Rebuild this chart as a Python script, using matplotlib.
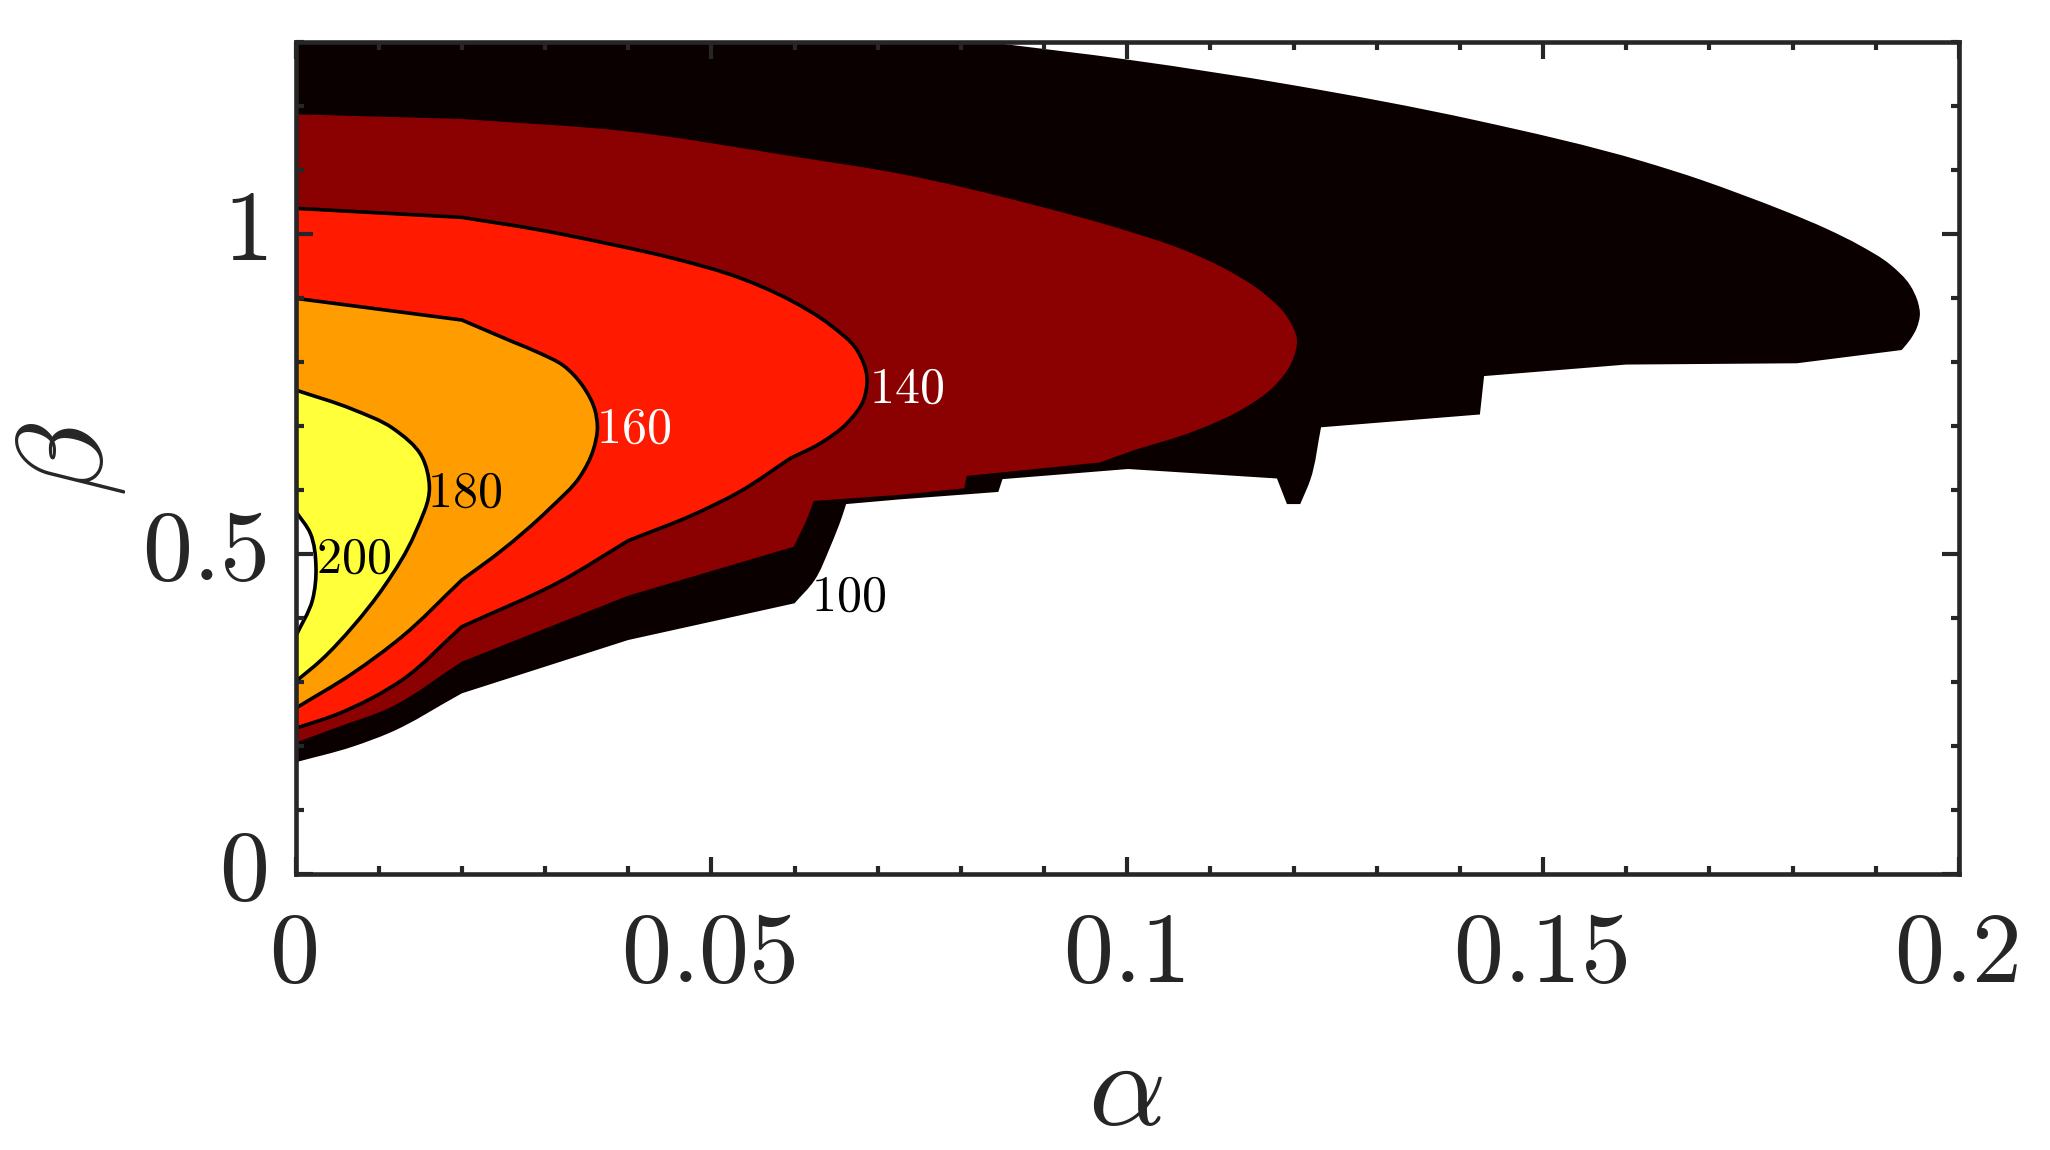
"""
Contours of the peak value over alpha / beta, hot colours
"""
import numpy as np
import matplotlib
matplotlib.use('Agg')
import matplotlib.pyplot as plt
from matplotlib.patches import PathPatch
from matplotlib.path import Path
from matplotlib.ticker import MultipleLocator
from matplotlib.transforms import ScaledTranslation

plt.rcParams['mathtext.fontset'] = 'cm'

# contours (alpha, beta)
alpha_100 = [0, 0.0832, 0.1003, 0.1198, 0.1418, 0.1621, 0.1689, 0.1741, 0.1793, 0.1841, 0.1881, 0.1917,
             0.1941, 0.1951, 0.1953, 0.1949, 0.1941, 0.1931, 0.1805, 0.16, 0.1429, 0.1424, 0.1233, 0.122,
             0.1208, 0.1192, 0.118, 0.1001, 0.085, 0.0845, 0.0727, 0.0662, 0.0657, 0.0643, 0.0624, 0.06,
             0.04, 0.02, 0.01117, 0.00688, 0]
beta_100 = [1.3, 1.3, 1.272, 1.2328, 1.178, 1.113, 1.085, 1.0605, 1.0345, 1.008, 0.982, 0.9525,
            0.9203, 0.8917, 0.876, 0.8526, 0.8344, 0.8187, 0.798, 0.796, 0.778, 0.718, 0.698, 0.6156,
            0.578, 0.578, 0.618, 0.6328, 0.617, 0.597, 0.5854, 0.578, 0.558, 0.5115, 0.459, 0.423,
            0.3656, 0.2823, 0.2198, 0.199, 0.1745]
corners_100 = [1, 17, 18, 19, 20, 21, 22, 24, 25, 26, 27, 28, 29, 30, 31, 35, 36, 37]

alpha_120 = [0, 0.02, 0.0401, 0.06, 0.0727, 0.0889, 0.1003, 0.1063, 0.1124, 0.1164, 0.1192, 0.1204,
             0.1198, 0.1176, 0.114, 0.1084, 0.1003, 0.0967, 0.0807, 0.0804, 0.0727, 0.0623, 0.0616,
             0.0599, 0.04, 0.02, 0.01117, 0.00523, 0]
beta_120 = [1.187, 1.1797, 1.16, 1.1208, 1.094, 1.045, 1.0036, 0.9776, 0.9411, 0.9073, 0.8708, 0.8344,
            0.8005, 0.7614, 0.7276, 0.6937, 0.6598, 0.643, 0.622, 0.6026, 0.5925, 0.5828, 0.5583,
            0.5114, 0.4349, 0.3318, 0.2589, 0.2302, 0.2052]
corners_120 = [1, 17, 18, 19, 20, 21, 23, 24, 25]

alpha_140 = [0, 0.02, 0.0294, 0.0374, 0.0454, 0.0534, 0.0595, 0.0643, 0.0675, 0.0687, 0.0683, 0.0663,
             0.0631, 0.0595, 0.0534, 0.0482, 0.04, 0.0321, 0.02, 0.0128, 0.00527, 0]
beta_140 = [1.0401, 1.026, 1.0062, 0.9854, 0.962, 0.9315, 0.8965, 0.8578, 0.8188, 0.777, 0.7406, 0.7042,
            0.673, 0.6495, 0.5973, 0.5636, 0.5208, 0.459, 0.3864, 0.303, 0.251, 0.2276]
corners_140 = [1, 13, 16, 18]

alpha_160 = [0, 0.02, 0.0262, 0.0294, 0.0322, 0.0346, 0.036, 0.0363, 0.0358, 0.0342, 0.0306, 0.0246,
             0.02, 0.0128, 0.00688, 0]
beta_160 = [0.8995, 0.8656, 0.8312, 0.8136, 0.7945, 0.7614, 0.725, 0.699, 0.6625, 0.6208, 0.5714, 0.5036,
            0.4594, 0.3708, 0.3136, 0.2589]
corners_160 = [1, 12]

alpha_180 = [0, 0.00688, 0.0117, 0.0152, 0.0161, 0.01437, 0.01064, 0.00688, 0.0031, 0]
beta_180 = [0.7563, 0.726, 0.6964, 0.652, 0.6052, 0.5323, 0.4489, 0.3864, 0.3344, 0.3005]

alpha_200 = [0, 0.00178, 0.00246, 0.00204, 0]
beta_200 = [0.5672, 0.5323, 0.4802, 0.4281, 0.3708]

# contour labels
label_text = ['100', '140', '160', '180', '200']
label_alpha = [0.0665, 0.0734, 0.0406, 0.0203, 0.00695]
label_beta = [0.4325, 0.759, 0.695, 0.595, 0.4934]
label_color = ['black', 'white', 'white', 'black', 'black']

x_ticks = [0, 0.05, 0.1, 0.15, 0.2]
x_tick_labels = ['$0$', '$0.05$', '$0.1$', '$0.15$', '$0.2$']
y_ticks = [0, 0.5, 1]
y_tick_labels = ['$0$', '$0.5$', '$1$']

dark = '#262626'


def smooth_path(xs, ys, corners=()):
    """Bezier path through the read points, sharp only at the listed corners"""
    # work in roughly pixel units so both axes weigh the same
    scale = np.array([8318.0, 640.0])
    pts = np.column_stack([xs, ys]) * scale
    seg = np.diff(pts, axis=0)
    h = np.hypot(seg[:, 0], seg[:, 1])
    unit = seg / h[:, None]

    verts = [pts[0]]
    codes = [Path.MOVETO]
    for i in range(len(h)):
        t0 = unit[i]
        t1 = unit[i]
        if i > 0 and i not in corners:
            t0 = (unit[i - 1] * h[i] + unit[i] * h[i - 1]) / (h[i] + h[i - 1])
        if i + 1 < len(h) and i + 1 not in corners:
            t1 = (unit[i] * h[i + 1] + unit[i + 1] * h[i]) / (h[i] + h[i + 1])
        verts += [pts[i] + t0 * h[i] / 3, pts[i + 1] - t1 * h[i] / 3, pts[i + 1]]
        codes += [Path.CURVE4] * 3
    return Path(np.array(verts) / scale, codes)


fig = plt.figure(figsize=(20.5, 11.5), dpi=100)
ax = fig.add_axes([295.5 / 2050, 1 - 874 / 1150, 1663.5 / 2050, 832 / 1150])

# filled levels, from the outside in
levels = [
    (alpha_100, beta_100, corners_100, '#0a0000', False),
    (alpha_120, beta_120, corners_120, '#8b0000', False),
    (alpha_140, beta_140, corners_140, '#ff1a00', True),
    (alpha_160, beta_160, corners_160, '#ff9d00', True),
    (alpha_180, beta_180, [], '#ffff3a', True),
    (alpha_200, beta_200, [], 'white', True),
]
for n, (xs, ys, corners, colour, outlined) in enumerate(levels):
    path = smooth_path(xs, ys, corners)
    ax.add_patch(PathPatch(path, facecolor=colour, edgecolor='none', lw=0, zorder=1 + n * 0.1))
    if outlined:
        ax.add_patch(PathPatch(path, fill=False, edgecolor='black', lw=2.6, zorder=2))

for txt, a, b, c in zip(label_text, label_alpha, label_beta, label_color):
    ax.text(a, b, '$%s$' % txt, color=c, fontsize=36, ha='center', va='center', zorder=3)

ax.set_xlim(0, 0.2)
ax.set_ylim(0, 1.3)
ax.set_xticks(x_ticks)
ax.set_xticklabels(x_tick_labels)
ax.set_yticks(y_ticks)
ax.set_yticklabels(y_tick_labels)
ax.xaxis.set_minor_locator(MultipleLocator(0.01))
ax.yaxis.set_minor_locator(MultipleLocator(0.1))
ax.set_axisbelow(False)

ax.tick_params(which='major', direction='in', top=True, right=True, length=12.2, width=3.0,
               color=dark, labelcolor=dark, labelsize=72)
ax.tick_params(axis='x', which='major', pad=77.8)
ax.tick_params(axis='y', which='major', pad=20.5)
ax.tick_params(which='minor', direction='in', top=True, right=True, length=5.8, width=3.0, color=dark)

# tick labels sit on their baseline, the y ones a bit below the tick
x_shift = ScaledTranslation(-3 / 100, 0, fig.dpi_scale_trans)
for label in ax.get_xticklabels():
    label.set_va('baseline')
    label.set_transform(label.get_transform() + x_shift)
y_shift = ScaledTranslation(0, -25.5 / 100, fig.dpi_scale_trans)
for label in ax.get_yticklabels():
    label.set_va('baseline')
    label.set_transform(label.get_transform() + y_shift)

for spine in ax.spines.values():
    spine.set_linewidth(3.3)
    spine.set_color(dark)

fig.text(1125 / 2050, 1 - 1091 / 1150, r'$\alpha$', color=dark, fontsize=87, ha='center', va='center')
fig.text(69 / 2050, 1 - 459 / 1150, r'$\beta$', color=dark, fontsize=88, ha='center', va='center', rotation=90)

fig.savefig('out.png', dpi=100)
